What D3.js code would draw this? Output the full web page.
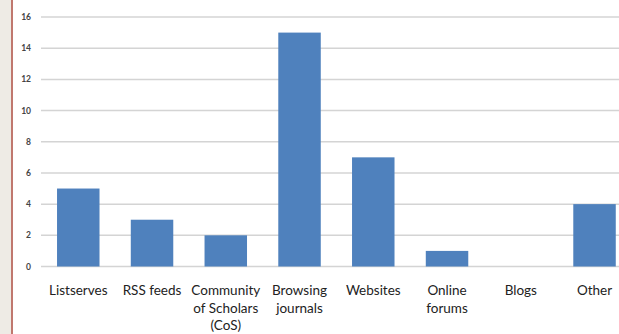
<!DOCTYPE html>
<html><head><meta charset="utf-8">
<script src="https://cdn.jsdelivr.net/npm/d3@7"></script>
<style>body{margin:0;background:#fff;}svg{display:block;}</style>
</head><body>
<script>
const categories = [["Listserves"],["RSS feeds"],["Community","of Scholars","(CoS)"],["Browsing","journals"],["Websites"],["Online","forums"],["Blogs"],["Other"]];
const values = [5,3,2,15,7,1,0,4];
const yTicks = [0,2,4,6,8,10,12,14,16];

const W=619,H=334;
const svg=d3.select("body").append("svg").attr("width",W).attr("height",H);
svg.append("rect").attr("width",W).attr("height",H).attr("fill","#fff");
svg.append("rect").attr("x",0).attr("y",0).attr("width",11).attr("height",H).attr("fill","#eeebe5");
svg.append("rect").attr("x",11).attr("y",0).attr("width",2).attr("height",H).attr("fill","#c0786e");

const x=d3.scaleBand().domain(d3.range(categories.length)).range([41.4,631.4]).paddingInner(0.424).paddingOuter(0.212);
const y=d3.scaleLinear().domain([0,16]).range([266.5,17]);

const g=svg.append("g");
g.selectAll("line.grid").data(yTicks).enter().append("line")
 .attr("x1",41).attr("x2",W).attr("y1",d=>y(d)).attr("y2",d=>y(d))
 .attr("stroke","#d4d4d4").attr("stroke-width",1.5);
g.selectAll("text.yt").data(yTicks).enter().append("text")
 .attr("x",31).attr("y",d=>y(d)+3).attr("text-anchor","end")
 .attr("font-family","Lato, 'Open Sans', sans-serif").attr("font-size",8.5).attr("font-weight","bold")
 .attr("fill","#444").text(d=>d);
g.selectAll("rect.bar").data(values).enter().append("rect")
 .attr("x",(d,i)=>x(i)).attr("width",x.bandwidth())
 .attr("y",d=>y(d)).attr("height",d=>y(0)-y(d)).attr("fill","#4f81bd");
const lab=g.selectAll("text.cat").data(categories).enter().append("text")
 .attr("text-anchor","middle").attr("font-family","Lato, 'Open Sans', sans-serif").attr("font-size",13.5)
 .attr("fill","#222").attr("transform",(d,i)=>`translate(${x(i)+x.bandwidth()/2},295)`);
lab.selectAll("tspan").data(d=>d).enter().append("tspan").attr("x",0).attr("dy",(d,i)=>i?17.5:0).text(d=>d);
</script>
</body></html>
